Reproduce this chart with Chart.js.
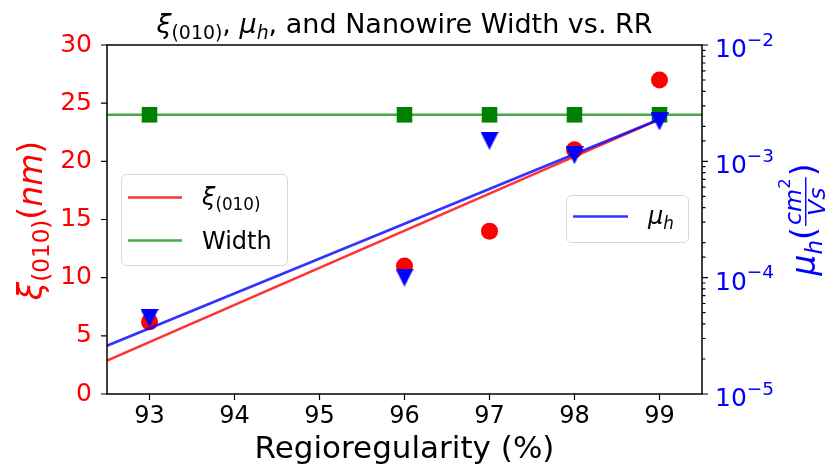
<!DOCTYPE html>
<html>
<head>
<meta charset="utf-8">
<script src="https://cdn.jsdelivr.net/npm/chart.js@4.4.0/dist/chart.umd.min.js"></script>
<style>
  html, body { margin: 0; padding: 0; background: #fff; }
  #wrap { width: 834px; height: 467px; }
</style>
</head>
<body>
<div id="wrap"><canvas id="c" width="834" height="467"></canvas></div>
<script>
// Measured data: regioregularity (%) vs. π-stacking coherence length, nanowire width and hole mobility
const regioregularity = [93, 96, 97, 98, 99];
const xi010 = [6.2, 11.0, 14.0, 21.0, 27.0];                 // nm
const nanowireWidth = [24, 24, 24, 24, 24];                  // nm
const holeMobility = [4.5e-5, 1.0e-4, 1.5e-3, 1.13e-3, 2.2e-3]; // cm^2/Vs

// Trend lines (end points)
const xiFitX = [92.5, 99];
const xiFitY = [2.86, 23.6];
const muFitX = [92.5, 99];
const muFitY = [2.6e-5, 2.3e-3];
const widthLineX = [92.5, 99.5];
const widthLineY = [24, 24];

// Axis ticks
const xTicks = [93, 94, 95, 96, 97, 98, 99];
const leftTicks = [0, 5, 10, 15, 20, 25, 30];
const rightTicks = [1e-5, 1e-4, 1e-3, 1e-2];
const rightTickExp = ['\u22125', '\u22124', '\u22123', '\u22122'];

const FONT = '"DejaVu Sans", "Liberation Sans", sans-serif';
const RED = '#ff0000', GREEN = '#008000', BLUE = '#0000ff';
const RED_LINE = 'rgba(255,0,0,0.8)';
const GREEN_LINE = 'rgba(0,128,0,0.7)';
const BLUE_LINE = 'rgba(0,0,255,0.8)';

// Downward triangle marker
function makeTriangle(size, color) {
  const c = document.createElement('canvas');
  c.width = size; c.height = size;
  const g = c.getContext('2d');
  g.fillStyle = color;
  g.beginPath();
  g.moveTo(0, 0); g.lineTo(size, 0); g.lineTo(size / 2, size);
  g.closePath(); g.fill();
  return c;
}
const triDown = makeTriangle(18, BLUE);

const pts = (xs, ys) => xs.map((x, i) => ({ x, y: ys[i] }));

// Mixed-style text: parts with italic / scale / vertical shift (em of base size)
function richMeasure(ctx, parts, size) {
  let w = 0;
  const items = parts.map(p => {
    const s = size * (p.s || 1);
    const font = (p.it ? 'italic ' : '') + s + 'px ' + FONT;
    ctx.font = font;
    const pw = ctx.measureText(p.t).width;
    const it = { t: p.t, font, x: w, dy: (p.dy || 0) * size, w: pw };
    w += pw;
    return it;
  });
  return { items, w };
}
function drawRich(ctx, parts, x, y, size, align, color) {
  const m = richMeasure(ctx, parts, size);
  const x0 = align === 'center' ? x - m.w / 2 : (align === 'right' ? x - m.w : x);
  ctx.fillStyle = color;
  ctx.textAlign = 'left';
  ctx.textBaseline = 'alphabetic';
  m.items.forEach(i => { ctx.font = i.font; ctx.fillText(i.t, x0 + i.x, y + i.dy); });
  return m.w;
}

const XI_SUB = [{ t: '\u03be', it: 1 }, { t: '(010)', s: 0.7, dy: 0.22 }];
const MU_SUB = [{ t: '\u03bc', it: 1 }, { t: 'h', it: 1, s: 0.7, dy: 0.22 }];

const decor = {
  id: 'decor',
  afterDraw(chart) {
    const { ctx, chartArea: a, scales } = chart;
    const sx = scales.x, yL = scales.yL, yR = scales.yR;
    ctx.save();

    // axes frame
    ctx.strokeStyle = '#000';
    ctx.lineWidth = 1.5;
    ctx.strokeRect(a.left, a.top, a.right - a.left, a.bottom - a.top);

    // tick marks
    ctx.lineWidth = 1.2;
    ctx.beginPath();
    sx.ticks.forEach(t => {
      const px = sx.getPixelForValue(t.value);
      ctx.moveTo(px, a.bottom); ctx.lineTo(px, a.bottom + 6);
    });
    yL.ticks.forEach(t => {
      const py = yL.getPixelForValue(t.value);
      ctx.moveTo(a.left, py); ctx.lineTo(a.left - 6, py);
    });
    yR.ticks.forEach(t => {
      const py = yR.getPixelForValue(t.value);
      const lg = Math.log10(t.value);
      const major = Math.abs(lg - Math.round(lg)) < 1e-6;
      ctx.moveTo(a.right, py); ctx.lineTo(a.right + (major ? 6 : 3.5), py);
    });
    ctx.stroke();

    // right axis labels 10^n
    rightTicks.forEach((v, i) => {
      const py = yR.getPixelForValue(v);
      const x0 = a.right + 13;
      const w = drawRich(ctx, [{ t: '10' }], x0, py + 12, 25, 'left', BLUE);
      drawRich(ctx, [{ t: rightTickExp[i] }], x0 + w, py + 12 - 0.46 * 25, 18.5, 'left', BLUE);
    });

    // title
    drawRich(ctx, [...XI_SUB, { t: ', ' }, ...MU_SUB, { t: ', and Nanowire Width vs. RR' }],
      (a.left + a.right) / 2, 33, 27, 'center', '#000');

    // x axis title
    drawRich(ctx, [{ t: 'Regioregularity (%)' }], (a.left + a.right) / 2, 458, 31, 'center', '#000');

    // left axis title
    ctx.save();
    ctx.translate(42, (a.top + a.bottom) / 2 + 1);
    ctx.rotate(-Math.PI / 2);
    drawRich(ctx, [...XI_SUB, { t: '(' }, { t: 'nm', it: 1 }, { t: ')' }], 0, 0, 33, 'center', RED);
    ctx.restore();

    // right axis title with fraction
    ctx.save();
    ctx.translate(815, (a.top + a.bottom) / 2);
    ctx.rotate(-Math.PI / 2);
    const S = 33;
    const numParts = [{ t: 'cm', it: 1, s: 0.72 }, { t: '2', s: 0.5, dy: -0.32 }];
    const denParts = [{ t: 'Vs', it: 1, s: 0.72 }];
    const head = richMeasure(ctx, [...MU_SUB, { t: '(' }], S);
    const num = richMeasure(ctx, numParts, S);
    const den = richMeasure(ctx, denParts, S);
    ctx.font = S + 'px ' + FONT;
    const closeW = ctx.measureText(')').width;
    const fw = Math.max(num.w, den.w) + 4;
    const total = head.w + fw + closeW;
    let cx = -total / 2;
    drawRich(ctx, [...MU_SUB, { t: '(' }], cx, 0, S, 'left', BLUE);
    cx += head.w;
    const axisY = -0.28 * S;
    drawRich(ctx, numParts, cx + (fw - num.w) / 2, axisY - 5, S, 'left', BLUE);
    drawRich(ctx, denParts, cx + (fw - den.w) / 2, axisY + 0.58 * S, S, 'left', BLUE);
    ctx.strokeStyle = BLUE; ctx.lineWidth = 1.4;
    ctx.beginPath(); ctx.moveTo(cx + 1, axisY); ctx.lineTo(cx + fw - 1, axisY); ctx.stroke();
    cx += fw;
    drawRich(ctx, [{ t: ')' }], cx, 0, S, 'left', BLUE);
    ctx.restore();

    // legend boxes
    function box(x, y, w, h) {
      ctx.beginPath();
      ctx.roundRect(x, y, w, h, 5);
      ctx.fillStyle = 'rgba(255,255,255,0.8)';
      ctx.fill();
      ctx.strokeStyle = '#d6d6d6';
      ctx.lineWidth = 1;
      ctx.stroke();
    }
    function sample(x1, x2, y, color) {
      ctx.strokeStyle = color; ctx.lineWidth = 2.5;
      ctx.beginPath(); ctx.moveTo(x1, y); ctx.lineTo(x2, y); ctx.stroke();
    }
    box(121.5, 174.5, 166, 91);
    sample(128, 182, 197.5, RED_LINE);
    drawRich(ctx, XI_SUB, 202, 205, 24, 'left', '#000');
    sample(128, 182, 240.5, GREEN_LINE);
    drawRich(ctx, [{ t: 'Width' }], 202, 249, 24, 'left', '#000');

    box(566.5, 195.5, 122, 47);
    sample(573, 628, 216.5, BLUE_LINE);
    drawRich(ctx, MU_SUB, 648, 224, 24, 'left', '#000');

    ctx.restore();
  }
};

new Chart(document.getElementById('c'), {
  type: 'scatter',
  data: {
    datasets: [
      { label: 'mu_h', yAxisID: 'yR', data: pts(regioregularity, holeMobility),
        pointStyle: triDown, pointRadius: 9, backgroundColor: BLUE, borderColor: BLUE, order: 0 },
      { label: 'mu_h fit', yAxisID: 'yR', type: 'line', data: pts(muFitX, muFitY),
        borderColor: BLUE_LINE, borderWidth: 2.5, pointRadius: 0, fill: false, order: 1 },
      { label: 'Width', yAxisID: 'yL', data: pts(regioregularity, nanowireWidth),
        pointStyle: 'rect', pointRadius: 11, backgroundColor: GREEN, borderColor: GREEN, borderWidth: 0, order: 2 },
      { label: 'xi_010', yAxisID: 'yL', data: pts(regioregularity, xi010),
        pointStyle: 'circle', pointRadius: 8.5, backgroundColor: RED, borderColor: RED, borderWidth: 0, order: 3 },
      { label: 'Width line', yAxisID: 'yL', type: 'line', data: pts(widthLineX, widthLineY),
        borderColor: GREEN_LINE, borderWidth: 2.5, pointRadius: 0, fill: false, order: 4 },
      { label: 'xi_010 fit', yAxisID: 'yL', type: 'line', data: pts(xiFitX, xiFitY),
        borderColor: RED_LINE, borderWidth: 2.5, pointRadius: 0, fill: false, order: 5 }
    ]
  },
  options: {
    responsive: false,
    animation: false,
    devicePixelRatio: 1,
    layout: { padding: { top: 45, left: 0, right: 0, bottom: 0 } },
    plugins: { legend: { display: false }, tooltip: { enabled: false } },
    scales: {
      x: {
        type: 'linear', min: 92.5, max: 99.5,
        afterBuildTicks: s => { s.ticks = xTicks.map(v => ({ value: v })); },
        afterFit: s => { s.height = 73; },
        grid: { display: false, drawTicks: false },
        border: { display: false },
        ticks: { color: '#000', font: { family: FONT, size: 24 }, padding: 8, callback: v => String(v), maxRotation: 0 }
      },
      yL: {
        type: 'linear', position: 'left', min: 0, max: 30,
        afterBuildTicks: s => { s.ticks = leftTicks.map(v => ({ value: v })); },
        afterFit: s => { s.width = 107; },
        grid: { display: false, drawTicks: false },
        border: { display: false },
        ticks: { color: RED, font: { family: FONT, size: 25 }, padding: 15, callback: v => String(v) }
      },
      yR: {
        type: 'logarithmic', position: 'right', min: 1e-5, max: 1e-2,
        afterFit: s => { s.width = 132; },
        grid: { display: false, drawTicks: false },
        border: { display: false },
        ticks: { display: false }
      }
    }
  },
  plugins: [decor]
});
</script>
</body>
</html>
